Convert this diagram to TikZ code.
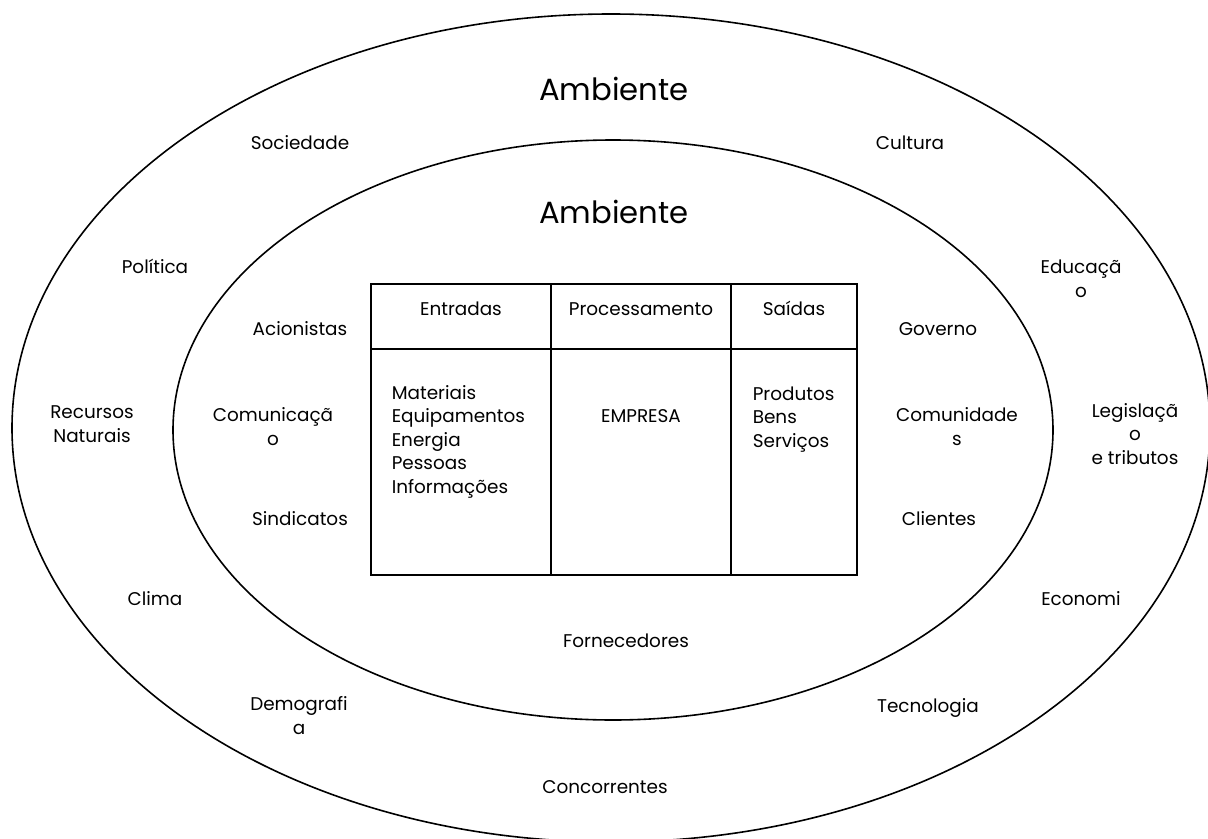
\documentclass[tikz,border=0pt]{standalone}
\usepackage{fontspec}
\setmainfont{Poppins}
\tikzset{every picture/.style={line width=1.2pt}}
\tikzset{
  lbl/.style={inner sep=0pt, anchor=base, align=center, font=\fontsize{13.8}{17.6}\selectfont},
  lst/.style={inner sep=0pt, anchor=base west, align=left, font=\fontsize{13.8}{17.6}\selectfont},
  big/.style={inner sep=0pt, anchor=base, font=\fontsize{23}{27}\selectfont}
}

\begin{document}
\begin{tikzpicture}[x=0.75pt,y=0.75pt,yscale=-1,xscale=1]
\useasboundingbox (0,0) rectangle (1208,839);

%Shape: Ellipse [outer]
\draw (611,428) ellipse [x radius=599, y radius=414];
%Shape: Ellipse [inner]
\draw (613,430) ellipse [x radius=440, y radius=290];

%Table
\draw (371,284) rectangle (857,575);
\draw (371,349) -- (857,349);
\draw (551,284) -- (551,575);
\draw (731,284) -- (731,575);

% Text Node
\draw (614,100) node (amb1) [big] {Ambiente};
% Text Node
\draw (614,223) node (amb2) [big] {Ambiente};

% Text Node (multi-line nodes sit on their last line)
\draw (300,149) node (soc) [lbl] {Sociedade};
\draw (910,149) node (cul) [lbl] {Cultura};
\draw (155,273) node (pol) [lbl] {Política};
\draw (1081,297) node (edu) [lbl] {Educaçã\\o};
\draw (300,335) node (aci) [lbl] {Acionistas};
\draw (938,335) node (gov) [lbl] {Governo};
\draw (92,442) node (rec) [lbl] {Recursos\\Naturais};
\draw (273,445) node (com) [lbl] {Comunicaçã\\o};
\draw (957,445) node (cmd) [lbl] {Comunidade\\s};
\draw (1135,464) node (leg) [lbl] {Legislaçã\\o\\e tributos};
\draw (300,525) node (sin) [lbl] {Sindicatos};
\draw (939,525) node (cli) [lbl] {Clientes};
\draw (155,605) node (cli2) [lbl] {Clima};
\draw (1081,605) node (eco) [lbl] {Economi};
\draw (626,647) node (for) [lbl] {Fornecedores};
\draw (299,734) node (dem) [lbl] {Demografi\\a};
\draw (928,712) node (tec) [lbl] {Tecnologia};
\draw (605,793) node (con) [lbl] {Concorrentes};

% Text Node (table)
\draw (461,315) node (ent) [lbl] {Entradas};
\draw (641,315) node (pro) [lbl] {Processamento};
\draw (794,315) node (sai) [lbl] {Saídas};
\draw (391,493) node (mat) [lst] {Materiais\\Equipamentos\\Energia\\Pessoas\\Informações};
\draw (641,422) node (emp) [lbl] {EMPRESA};
\draw (752,447) node (prd) [lst] {Produtos\\Bens\\Serviços};

\end{tikzpicture}
\end{document}
